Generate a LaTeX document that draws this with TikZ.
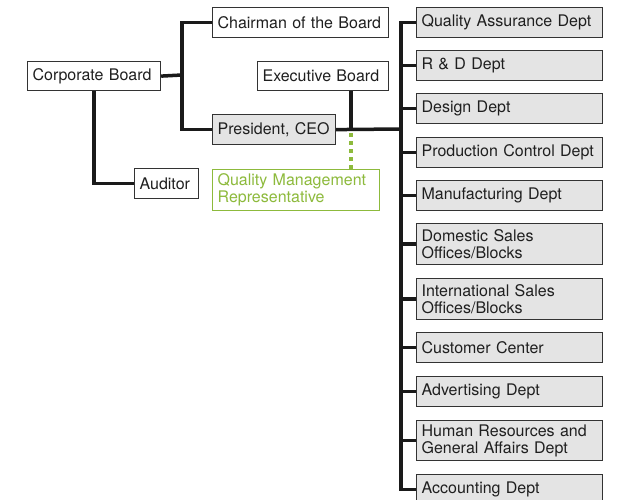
\documentclass[tikz,border=0pt]{standalone}
\usepackage{fontspec}
\setmainfont{TeX Gyre Heros}
\definecolor{deptgray}{HTML}{E4E4E4}
\definecolor{bordergray}{HTML}{333333}
\definecolor{linecol}{HTML}{1A1A1A}
\definecolor{qgreen}{HTML}{8DBA3C}
\begin{document}
\begin{tikzpicture}[x=1pt,y=-1pt,
  box/.style={draw=bordergray, line width=1.2pt, fill=white, inner xsep=5pt, inner ysep=0pt,
    align=left, anchor=north west, font=\fontsize{16}{16.7}\selectfont, text=black!88},
  dept/.style={box, fill=deptgray, minimum width=186pt, text width=176pt},
  conn/.style={draw=linecol, line width=3.5pt},
  dotconn/.style={draw=qgreen, line width=3.6pt, dash pattern=on 3.6pt off 4.4pt}
]
\useasboundingbox (0,0) rectangle (619,500);

% left part
\node[box, minimum width=133pt, minimum height=29pt, text width=123pt] (corp) at (27,61) {Corporate Board};
\node[box, minimum width=176pt, minimum height=30pt, text width=166pt] (chair) at (212,7) {Chairman of the Board};
\node[box, minimum width=131pt, minimum height=29pt, text width=121pt] (exec) at (257,61) {Executive Board};
\node[box, fill=deptgray, minimum width=123pt, minimum height=30pt, text width=113pt] (ceo) at (212,114) {President, CEO};
\node[box, minimum width=64pt, minimum height=30pt, text width=54pt] (aud) at (134,168) {Auditor};
\node[box, draw=qgreen, text=qgreen, minimum width=167pt, minimum height=41pt, text width=157pt] (qmr) at (212,169) {Quality Management\\Representative};

% departments
\node[dept, minimum height=30pt] (qa) at (416,7) {Quality Assurance Dept};
\node[dept, minimum height=30pt] (rd) at (416,50) {R \& D Dept};
\node[dept, minimum height=30pt] (des) at (416,93) {Design Dept};
\node[dept, minimum height=30pt] (prod) at (416,137) {Production Control Dept};
\node[dept, minimum height=30pt] (manu) at (416,180) {Manufacturing Dept};
\node[dept, minimum height=41pt] (dom) at (416,223) {Domestic Sales\\Offices/Blocks};
\node[dept, minimum height=41pt] (intl) at (416,278) {International Sales\\Offices/Blocks};
\node[dept, minimum height=30pt] (cust) at (416,332) {Customer Center};
\node[dept, minimum height=30pt] (adv) at (416,376) {Advertising Dept};
\node[dept, minimum height=40pt] (hr) at (416,420) {Human Resources and\\General Affairs Dept};
\node[dept, minimum height=30pt] (acc) at (416,474) {Accounting Dept};

% junctions
\coordinate (cj) at (182,75);
\coordinate (ej) at (351,129);
\coordinate (sj) at (401,129);

% connectors
\draw[conn] (corp.east) -- (cj);
\draw[conn] (chair.west) -| (cj) |- (ceo.west);
\draw[conn] (corp.south) |- (aud.west);
\draw[conn] (ej |- exec.south) -- (ej);
\draw[conn] (ceo.east) -- (sj);
\draw[conn] (qa.west) -- ++(-15,0) |- (acc.west);
\foreach \d in {rd,des,prod,manu,dom,intl,cust,adv,hr}
  \draw[conn] (\d.west) -- ++(-16.5,0);
\draw[dotconn] (ej) ++(0,4.5) -- (ej |- qmr.north);
\end{tikzpicture}
\end{document}
